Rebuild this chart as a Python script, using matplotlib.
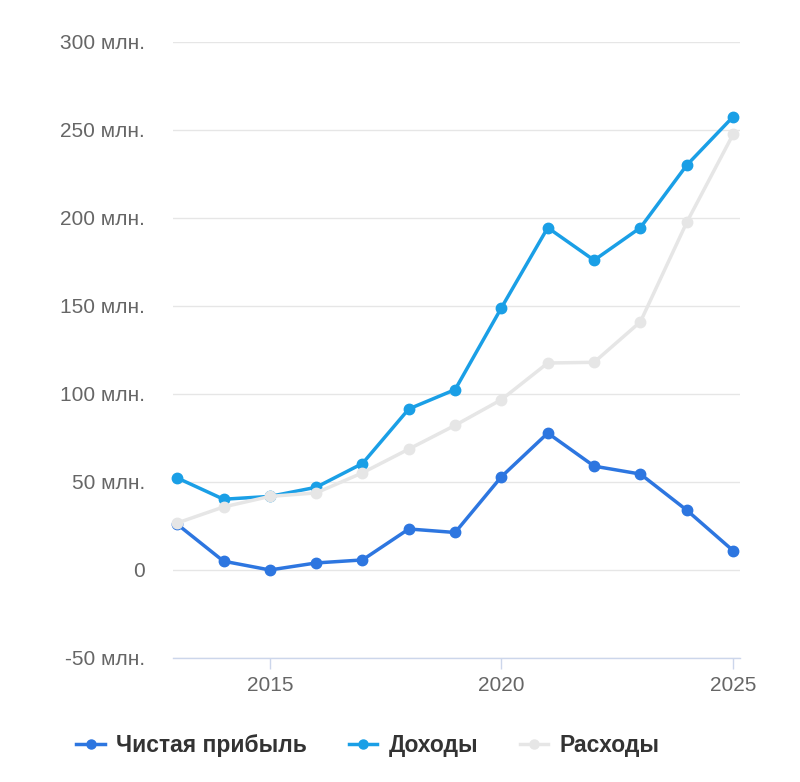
import matplotlib.pyplot as plt
from matplotlib.lines import Line2D

# Values (millions)
years = [2013, 2014, 2015, 2016, 2017, 2018, 2019, 2020, 2021, 2022, 2023, 2024, 2025]
net_profit = [26, 5, 0, 4, 5.7, 23.3, 21.3, 53, 77.8, 59, 54.5, 34, 11]
revenue = [52.3, 40.2, 41.8, 47, 60.5, 91.5, 102.5, 149, 194.5, 176, 194.5, 230, 257.5]
expenses = [26.7, 35.8, 41.8, 43.8, 55.2, 68.7, 82.2, 96.8, 117.6, 118, 141, 197.5, 247.5]

y_ticks = [-50, 0, 50, 100, 150, 200, 250, 300]
y_labels = ['-50 млн.', '0', '50 млн.', '100 млн.', '150 млн.', '200 млн.', '250 млн.', '300 млн.']
x_ticks = [2015, 2020, 2025]

series = [
    ('Чистая прибыль', net_profit, '#2d76e0'),
    ('Доходы', revenue, '#1a9fe6'),
    ('Расходы', expenses, '#e6e6e6'),
]

plt.rcParams['font.family'] = ['Liberation Sans', 'DejaVu Sans']

fig = plt.figure(figsize=(8, 7.82), dpi=100)
ax = fig.add_axes([0.216, 0.1586, 0.709, 0.7877])

handles = []
for i, (name, values, color) in enumerate(series):
    ax.plot(years, values, color=color, linewidth=2.5, marker='o',
            markersize=7.5, zorder=3 + i, clip_on=False)
    handles.append(Line2D([0], [0], color=color, linewidth=2.5, marker='o',
                          markersize=6.5, label=name))

ax.set_xlim(2012.905, 2025.15)
ax.set_ylim(-50, 300)
ax.set_yticks(y_ticks)
ax.set_yticklabels(y_labels)
ax.set_xticks(x_ticks)

ax.grid(axis='y', color='#e6e6e6', linewidth=1.0, zorder=0)
ax.set_axisbelow(True)
for side in ['top', 'right', 'left']:
    ax.spines[side].set_visible(False)
ax.spines['bottom'].set_color('#ccd6eb')
ax.spines['bottom'].set_linewidth(1.0)

ax.tick_params(axis='y', length=0, pad=20, labelsize=15, labelcolor='#666666')
ax.tick_params(axis='x', length=8, width=1, color='#ccd6eb', pad=5,
               labelsize=15, labelcolor='#666666')

fig.legend(handles=handles, loc='center', bbox_to_anchor=(0.46, 0.047),
           ncol=3, frameon=False, handlelength=1.25, handletextpad=0.5,
           columnspacing=1.8, prop={'size': 16.5, 'weight': 'bold'},
           labelcolor='#333333')

fig.savefig('out.png', dpi=100)
